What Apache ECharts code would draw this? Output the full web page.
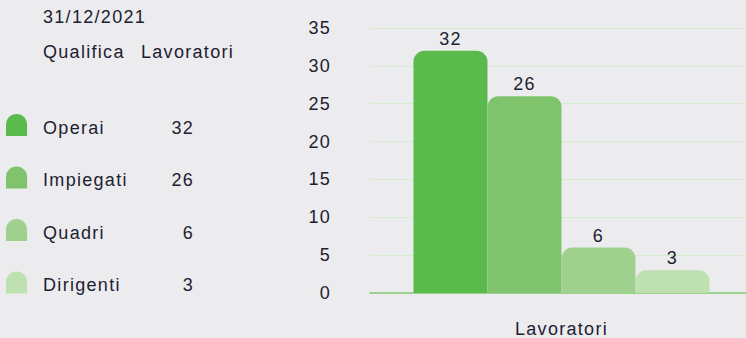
<!DOCTYPE html>
<html>
<head>
<meta charset="utf-8">
<script src="https://cdn.jsdelivr.net/npm/echarts@6/dist/echarts.min.js"></script>
<style>
  html, body { margin: 0; padding: 0; background: #ececee; }
  /* wide tracking for every label; the SVG text inherits it */
  #chart { width: 746px; height: 338px; letter-spacing: 1.3px; }
</style>
</head>
<body>
<div id="chart"></div>
<script>
// Workforce by role at year end
const snapshotDate = '31/12/2021';
const roleHeader = 'Qualifica';
const countHeader = 'Lavoratori';
const roles = ['Operai', 'Impiegati', 'Quadri', 'Dirigenti'];
const workers = [32, 26, 6, 3];
const roleColors = ['#5aba4b', '#7fc46c', '#a0d08e', '#bfe0b1'];
const axisCategory = ['Lavoratori'];
const yMin = 0, yMax = 35, yStep = 5;

const FONT = '"Liberation Sans", Arial, sans-serif';
const SIZE = 18;
const INK = '#1c2131';

const chart = echarts.init(document.getElementById('chart'), null, { renderer: 'svg' });

const series = roles.map((role, i) => ({
  name: role,
  type: 'bar',
  data: [workers[i]],
  barGap: '0%',
  barCategoryGap: '22.7%',
  itemStyle: {
    color: roleColors[i],
    borderRadius: [11, 11, 0, 0]
  },
  label: {
    show: true,
    position: 'top',
    distance: 3,
    color: INK,
    fontFamily: FONT,
    fontSize: SIZE
  },
  emphasis: { disabled: true }
}));

chart.setOption({
  backgroundColor: '#ececee',
  animation: false,
  textStyle: { fontFamily: FONT },
  graphic: [
    { type: 'text', left: 43, top: 8, style: { text: snapshotDate, fill: INK, font: SIZE + 'px ' + FONT } },
    { type: 'text', left: 43, top: 43, style: { text: roleHeader, fill: INK, font: SIZE + 'px ' + FONT } },
    { type: 'text', left: 141, top: 43, style: { text: countHeader, fill: INK, font: SIZE + 'px ' + FONT } }
  ],
  legend: {
    orient: 'vertical',
    left: 6,
    top: 114,
    padding: 0,
    itemWidth: 23,
    itemHeight: 22,
    itemGap: 30,
    selectedMode: false,
    icon: 'path://M0 24V11A11 11 0 0 1 11 0H12A11 11 0 0 1 23 11V24Z',
    data: roles,
    formatter: name => `{n|${name}}{v|${workers[roles.indexOf(name)]}}`,
    textStyle: {
      color: INK,
      fontFamily: FONT,
      fontSize: SIZE,
      padding: [5, 0, 0, 10],
      rich: {
        n: { width: 111, fontSize: SIZE, fontFamily: FONT, color: INK },
        v: { width: 40, align: 'right', fontSize: SIZE, fontFamily: FONT, color: INK }
      }
    }
  },
  // the plot runs a little past the right edge of the canvas
  grid: { left: 370, right: -7, top: 28, bottom: 45, containLabel: false, outerBoundsMode: 'none' },
  xAxis: {
    type: 'category',
    data: axisCategory,
    axisLine: { show: true, lineStyle: { color: '#86c977', width: 1.5 } },
    axisTick: { show: false },
    axisLabel: { margin: 27, color: INK, fontFamily: FONT, fontSize: SIZE }
  },
  yAxis: {
    type: 'value',
    min: yMin,
    max: yMax,
    interval: yStep,
    axisLine: { show: false },
    axisTick: { show: false },
    axisLabel: { margin: 39, color: INK, fontFamily: FONT, fontSize: SIZE },
    splitLine: { lineStyle: { color: '#d6ebcd', width: 1 } }
  },
  series
});
</script>
</body>
</html>
